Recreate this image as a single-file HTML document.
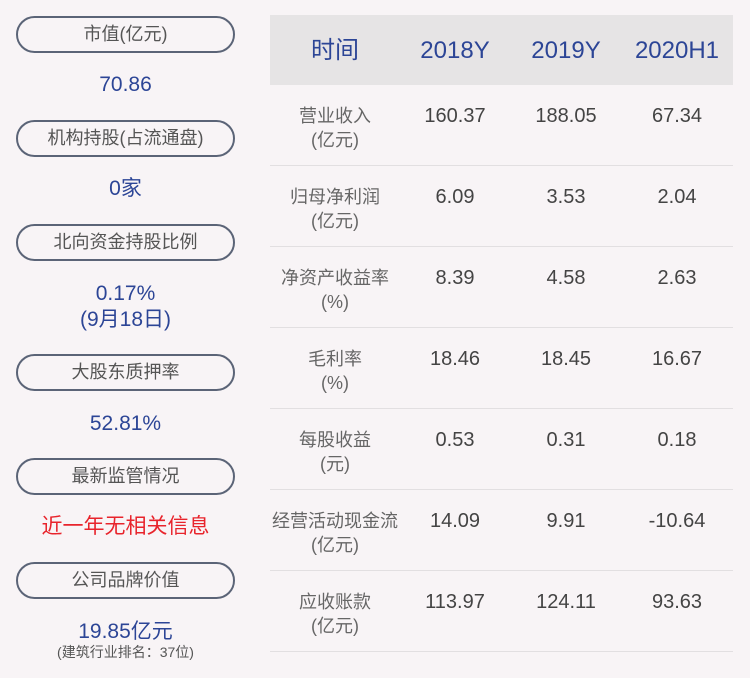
<!DOCTYPE html>
<html><head><meta charset="utf-8"><style>
body{margin:0;width:750px;height:678px;background:#f8f4f6;position:relative;overflow:hidden;font-family:"Liberation Sans","Noto Sans CJK SC",sans-serif}
.a{position:absolute;text-align:center;white-space:nowrap;line-height:1}
.pill{position:absolute;left:16px;width:215px;height:33px;border:2px solid #5b6477;border-radius:19px;color:#555;font-size:18px;line-height:33px;text-align:center}
.v{color:#2c4596;font-size:21px;left:16px;width:219px}
.hd{position:absolute;left:270px;top:15px;width:463px;height:70px;background:#e6e4e5}
.h{color:#2c4596;font-size:24px;top:39px}
.ln{position:absolute;left:270px;width:463px;height:1px;background:#e2dfe1}
.lb{color:#666;font-size:18px;width:140px;left:265px}
.n{color:#444;font-size:20px;width:110px}
</style></head><body>
<div class="pill" style="top:16px">市值(亿元)</div>
<div class="a v" style="top:74px">70.86</div>
<div class="pill" style="top:120px">机构持股(占流通盘)</div>
<div class="a v" style="top:178px">0家</div>
<div class="pill" style="top:224px">北向资金持股比例</div>
<div class="a v" style="top:283px">0.17%</div>
<div class="a v" style="top:309px">(9月18日)</div>
<div class="pill" style="top:354px">大股东质押率</div>
<div class="a v" style="top:413px">52.81%</div>
<div class="pill" style="top:458px">最新监管情况</div>
<div class="a v" style="top:516px;color:#e8242c">近一年无相关信息</div>
<div class="pill" style="top:562px">公司品牌价值</div>
<div class="a v" style="top:621px">19.85亿元</div>
<div class="a" style="top:645px;left:16px;width:219px;font-size:14px;color:#555">(建筑行业排名：37位)</div>

<div class="hd"></div>
<div class="a h" style="left:285px;width:100px">时间</div>
<div class="a h" style="left:400px;width:110px">2018Y</div>
<div class="a h" style="left:511px;width:110px">2019Y</div>
<div class="a h" style="left:622px;width:110px">2020H1</div>

<div class="ln" style="top:165px"></div>
<div class="ln" style="top:246px"></div>
<div class="ln" style="top:327px"></div>
<div class="ln" style="top:408px"></div>
<div class="ln" style="top:489px"></div>
<div class="ln" style="top:570px"></div>
<div class="ln" style="top:651px"></div>

<div class="a lb" style="top:107px">营业收入</div><div class="a lb" style="top:131px">(亿元)</div>
<div class="a n" style="top:106px;left:400px">160.37</div><div class="a n" style="top:106px;left:511px">188.05</div><div class="a n" style="top:106px;left:622px">67.34</div>

<div class="a lb" style="top:188px">归母净利润</div><div class="a lb" style="top:212px">(亿元)</div>
<div class="a n" style="top:187px;left:400px">6.09</div><div class="a n" style="top:187px;left:511px">3.53</div><div class="a n" style="top:187px;left:622px">2.04</div>

<div class="a lb" style="top:269px">净资产收益率</div><div class="a lb" style="top:293px">(%)</div>
<div class="a n" style="top:268px;left:400px">8.39</div><div class="a n" style="top:268px;left:511px">4.58</div><div class="a n" style="top:268px;left:622px">2.63</div>

<div class="a lb" style="top:350px">毛利率</div><div class="a lb" style="top:374px">(%)</div>
<div class="a n" style="top:349px;left:400px">18.46</div><div class="a n" style="top:349px;left:511px">18.45</div><div class="a n" style="top:349px;left:622px">16.67</div>

<div class="a lb" style="top:431px">每股收益</div><div class="a lb" style="top:455px">(元)</div>
<div class="a n" style="top:430px;left:400px">0.53</div><div class="a n" style="top:430px;left:511px">0.31</div><div class="a n" style="top:430px;left:622px">0.18</div>

<div class="a lb" style="top:512px">经营活动现金流</div><div class="a lb" style="top:536px">(亿元)</div>
<div class="a n" style="top:511px;left:400px">14.09</div><div class="a n" style="top:511px;left:511px">9.91</div><div class="a n" style="top:511px;left:622px">-10.64</div>

<div class="a lb" style="top:593px">应收账款</div><div class="a lb" style="top:617px">(亿元)</div>
<div class="a n" style="top:592px;left:400px">113.97</div><div class="a n" style="top:592px;left:511px">124.11</div><div class="a n" style="top:592px;left:622px">93.63</div>
</body></html>
